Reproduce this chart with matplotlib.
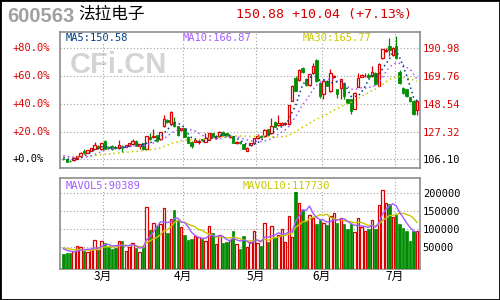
import matplotlib
matplotlib.use("Agg")
import matplotlib.pyplot as plt
import matplotlib.patches as mpatches
import matplotlib.transforms as mtransforms
import numpy as np
import pandas as pd

# 600563 法拉电子, daily K line, Feb-Jul
opens = [106.5, 106.1, 105.0, 105.3, 106.3, 108.7, 112.5, 111.2, 112.5, 114.3,
         116.4, 113.8, 120.2, 115.5, 116.4, 115.6, 114.4, 116.4, 115.6, 116.4,
         117.7, 120.2, 116.4, 118.2, 114.3, 122.8, 122.8, 124.6, 121.5, 131.3,
         136.5, 133.1, 134.9, 131.3, 128.5, 129.8, 123.4, 119.6, 119.6, 119.3,
         121.3, 119.6, 120.9, 126.0, 122.5, 123.9, 127.2, 126.0, 122.9, 123.9,
         118.8, 119.6, 117.6, 112.7, 117.0, 118.8, 122.1, 123.9, 123.9, 129.0,
         126.0, 134.9, 132.3, 132.6, 133.0, 132.9, 150.9, 168.0, 166.7, 175.7,
         167.3, 162.9, 172.3, 182.0, 164.7, 155.8, 166.0, 158.3, 169.3, 159.6,
         160.4, 164.7, 152.0, 152.0, 144.8, 161.4, 169.4, 169.5, 170.3, 169.8,
         172.3, 162.2, 183.3, 188.9, 192.5, 185.9, 192.7, 173.1, 160.4, 159.6,
         153.4, 150.7, 143.8]
closes = [106.1, 104.4, 104.6, 107.4, 108.7, 111.2, 110.8, 113.0, 114.6, 116.9,
          115.1, 118.5, 114.2, 114.8, 114.0, 114.4, 116.9, 114.6, 116.9, 118.2,
          120.2, 116.4, 117.7, 113.8, 123.6, 121.5, 124.1, 120.2, 126.7, 137.0,
          134.4, 142.1, 131.3, 124.6, 129.8, 123.4, 118.8, 116.3, 120.9, 120.3,
          120.7, 122.1, 126.0, 122.8, 123.7, 127.0, 124.7, 123.6, 123.9, 118.8,
          119.4, 118.5, 114.2, 115.0, 118.3, 122.1, 123.9, 122.9, 128.5, 124.7,
          131.6, 131.0, 134.1, 133.8, 134.0, 147.6, 162.2, 158.5, 174.4, 172.8,
          162.9, 171.1, 177.4, 166.0, 154.5, 166.0, 162.2, 172.3, 170.1, 155.8,
          167.3, 154.5, 149.4, 143.0, 157.0, 168.5, 170.2, 169.9, 169.4, 173.1,
          163.4, 179.2, 190.2, 190.0, 189.5, 191.5, 183.3, 164.7, 156.8, 154.5,
          150.5, 140.84, 150.88]
highs = [106.9, 106.4, 105.4, 107.8, 109.0, 111.8, 114.0, 113.4, 115.0, 119.0,
         116.8, 118.9, 120.6, 116.0, 116.8, 116.0, 121.0, 116.8, 117.3, 118.6,
         121.5, 120.6, 118.0, 118.6, 124.0, 126.2, 129.3, 125.0, 127.2, 139.6,
         137.2, 143.4, 138.3, 131.7, 130.2, 130.2, 123.8, 120.0, 121.3, 121.0,
         121.8, 126.0, 126.4, 126.4, 124.5, 128.1, 127.8, 126.4, 124.3, 124.3,
         119.8, 120.0, 118.0, 115.4, 118.7, 122.5, 125.4, 124.4, 128.9, 129.4,
         137.5, 135.3, 140.3, 134.3, 134.6, 148.0, 162.6, 170.0, 175.0, 176.5,
         168.0, 171.6, 180.0, 182.5, 165.2, 166.5, 166.5, 174.9, 170.5, 160.0,
         167.8, 165.2, 152.5, 152.5, 157.5, 172.3, 171.0, 172.0, 172.3, 177.4,
         172.8, 179.7, 190.8, 191.0, 199.0, 192.0, 200.5, 174.0, 161.0, 160.0,
         154.0, 151.2, 151.5]
lows = [105.5, 104.0, 104.2, 105.0, 106.0, 108.3, 110.3, 110.8, 112.2, 114.0,
        114.6, 113.5, 113.8, 114.3, 113.6, 113.9, 114.0, 111.5, 115.2, 116.0,
        117.4, 116.0, 114.3, 113.4, 114.0, 121.0, 122.4, 119.8, 121.0, 130.8,
        134.0, 132.8, 131.0, 124.2, 128.0, 122.9, 118.3, 114.6, 119.2, 117.8,
        120.2, 119.2, 120.5, 122.4, 122.0, 123.5, 124.3, 123.0, 122.5, 118.3,
        117.8, 117.9, 113.8, 112.3, 116.3, 118.4, 121.7, 122.5, 123.5, 124.3,
        125.6, 130.6, 131.9, 132.0, 132.6, 132.5, 150.5, 158.0, 166.2, 172.3,
        162.3, 162.5, 171.9, 165.5, 153.2, 152.0, 161.8, 157.9, 168.9, 153.2,
        152.0, 152.0, 149.0, 141.0, 144.4, 161.0, 168.8, 168.9, 168.5, 169.4,
        162.9, 161.8, 182.8, 188.4, 185.0, 185.0, 182.5, 164.0, 156.3, 154.0,
        150.0, 140.3, 139.8]
volumes = [31800, 34500, 33600, 41000, 52800, 50000, 41000, 37300, 43700, 70000,
           43700, 66600, 62000, 50000, 46000, 48300, 66600, 66600, 41000, 52000,
           61000, 48300, 37300, 48300, 160700, 97700, 116900, 109500, 115000, 158200,
           90300, 128700, 152600, 121400, 105000, 83000, 71000, 74000, 81000, 77000,
           73000, 68000, 108600, 89400, 59000, 83000, 62000, 64700, 71000, 95800,
           59000, 46000, 80000, 51000, 64700, 94000, 62000, 52800, 116900, 64700,
           107700, 75000, 85000, 100000, 64700, 135000, 78000, 230000, 171700, 153000,
           123000, 139600, 130000, 114800, 124000, 116000, 112000, 135000, 144000, 116000,
           130000, 114800, 101000, 114000, 92000, 130000, 105000, 95000, 101000, 124000,
           101000, 167000, 208000, 172000, 169000, 132000, 139600, 115000, 104000, 94000,
           68000, 94000, 95000]

# closes / volumes just before the window (only feed the moving averages)
prior_closes = [104.5, 105.2, 106.0, 105.3, 104.8, 105.6, 106.4, 107.0, 106.2, 105.5,
                106.8, 107.5, 108.3, 107.6, 106.9, 107.8, 108.5, 109.6, 110.4, 111.2,
                110.5, 109.8, 110.9, 111.5, 110.2, 109.0, 108.1, 107.3, 106.7]
prior_volumes = [52000, 48000, 55000, 50000, 46000, 58000, 44000, 51000, 47000]

month_pos = [11.5, 34.5, 55.5, 74.5, 95.5]
month_labels = ['3月', '4月', '5月', '6月', '7月']
price_levels = [106.10, 127.32, 148.54, 169.76, 190.98]
pct_labels = ['+0.0%', '+20.0%', '+40.0%', '+60.0%', '+80.0%']
vol_levels = [50000, 100000, 150000, 200000]

RED = '#dd0000'
GREEN = '#008c00'
BLUE = '#003f87'
PURPLE = '#a35cff'
YELLOW = '#c8c800'
GRID = '#a0a0a0'
FRAME = '#8c8c8c'
MONO = 'DejaVu Sans Mono'
CJK = ['Noto Sans CJK SC', 'DejaVu Sans']

W, H = 500, 300


def fx(px):
    return px / W


def fy(py):
    return 1 - py / H


o = np.array(opens)
c = np.array(closes)
hi = np.array(highs)
lo = np.array(lows)
v = np.array(volumes)
x = np.arange(len(c))
up = c >= o
cols = np.where(up, RED, GREEN)

fig = plt.figure(figsize=(5, 3), dpi=100)
fig.patch.set_facecolor('white')
fig.patches.append(mpatches.Rectangle((0, 0), 1, 1, transform=fig.transFigure,
                                      fill=False, edgecolor='black', lw=2))

ax1 = fig.add_axes([fx(60), fy(167.7), fx(360), (167.7 - 31.5) / H])
ax2 = fig.add_axes([fx(60), fy(269), fx(360), (269 - 178.3) / H])

for ax in (ax1, ax2):
    for s in ax.spines.values():
        s.set_color(FRAME)
        s.set_linewidth(1.2)
    ax.set_xlim(-0.95, 102.85)
    ax.set_xticks(month_pos)
    ax.grid(True, color=GRID, linestyle=(0, (1, 2)), lw=0.8)
    ax.set_axisbelow(True)
    ax.tick_params(length=0)

# ---- price panel
ax1.set_ylim(99.7, 203.8)
ax1.set_yticks(price_levels)
ax1.yaxis.tick_right()
ax1.set_yticklabels(['%.2f' % p for p in price_levels], fontfamily=MONO, fontsize=7.5)
ax1.tick_params(axis='y', pad=2)
for lab, p in zip(ax1.get_yticklabels(), price_levels):
    lab.set_color('black' if p == price_levels[0] else RED)
ax1.set_xticklabels([])

blend = mtransforms.blended_transform_factory(fig.transFigure, ax1.transData)
for p, lab in zip(price_levels, pct_labels):
    ax1.text(fx(12.5), p, lab, transform=blend, ha='left', va='center',
             fontfamily=MONO, fontsize=7.5,
             color='black' if p == price_levels[0] else RED, clip_on=False)

ax1.text(fx(70), fy(65), 'CFi.CN', transform=fig.transFigure, fontsize=21,
         fontweight='bold', family='Liberation Sans', color='#d4d4d4',
         ha='left', va='center', zorder=0.5)

body_lo = np.minimum(o, c)
body_hi = np.maximum(o, c)
ax1.vlines(x, lo, body_lo, colors=cols, lw=0.9, zorder=2)
ax1.vlines(x, body_hi, hi, colors=cols, lw=0.9, zorder=2)
ax1.bar(x[up], (body_hi - body_lo)[up], bottom=body_lo[up], width=0.7,
        facecolor='white', edgecolor=RED, lw=0.9, zorder=3)
ax1.bar(x[~up], (body_hi - body_lo)[~up], bottom=body_lo[~up], width=0.7,
        facecolor=GREEN, edgecolor=GREEN, lw=0.6, zorder=3)

full_c = pd.Series(prior_closes + closes)
n0 = len(prior_closes)
for n, col in ((30, YELLOW), (10, PURPLE), (5, BLUE)):
    ma = full_c.rolling(n, min_periods=1).mean().iloc[n0:].values
    ax1.plot(x, ma, color=col, lw=1.1, linestyle=(0, (1, 2)), zorder=4)

# ---- volume panel
vol_floor = -9600
ax2.set_ylim(vol_floor, 239600)
ax2.set_yticks(vol_levels)
ax2.yaxis.tick_right()
ax2.set_yticklabels([str(t) for t in vol_levels], fontfamily=MONO, fontsize=7.5)
ax2.tick_params(axis='y', pad=2)
ax2.set_xticklabels(month_labels, fontfamily=CJK, fontsize=8.5)
ax2.tick_params(axis='x', pad=1)

ax2.bar(x[up], v[up] - vol_floor, bottom=vol_floor, width=0.7,
        facecolor='white', edgecolor=RED, lw=0.9, zorder=3)
ax2.bar(x[~up], v[~up] - vol_floor, bottom=vol_floor, width=0.7,
        facecolor=GREEN, edgecolor=GREEN, lw=0.5, zorder=3)

full_v = pd.Series(prior_volumes + volumes, dtype=float)
m0 = len(prior_volumes)
for n, col in ((10, YELLOW), (5, PURPLE)):
    mv = full_v.rolling(n, min_periods=1).mean().iloc[m0:].values
    ax2.plot(x, mv, color=col, lw=1.0, zorder=4)

# ---- legends
box = dict(facecolor='white', edgecolor='none', pad=0.5)
for px, py, txt, col in ((66, 38.3, 'MA5:150.58', BLUE),
                         (183, 38.3, 'MA10:166.87', PURPLE),
                         (303, 38.3, 'MA30:165.77', YELLOW),
                         (66, 185.8, 'MAVOL5:90389', PURPLE),
                         (243, 185.8, 'MAVOL10:117730', YELLOW)):
    fig.text(fx(px), fy(py), txt, color=col, fontfamily=MONO, fontsize=7.5,
             ha='left', va='center', bbox=box, zorder=10)

# ---- header
fig.text(fx(7.5), fy(16.7), '600563', color='#a0a0a0', fontsize=14.5,
         fontweight='bold', family='Liberation Sans', ha='left', va='center')
fig.text(fx(78), fy(14.5), '法拉电子', color='black', fontsize=12,
         fontfamily=CJK, ha='left', va='center')
fig.text(fx(236), fy(14.5), '150.88 +10.04 (+7.13%)', color='#d40000',
         fontsize=9.5, fontfamily=MONO, ha='left', va='center')

fig.savefig('out.png', dpi=100, facecolor='white')
